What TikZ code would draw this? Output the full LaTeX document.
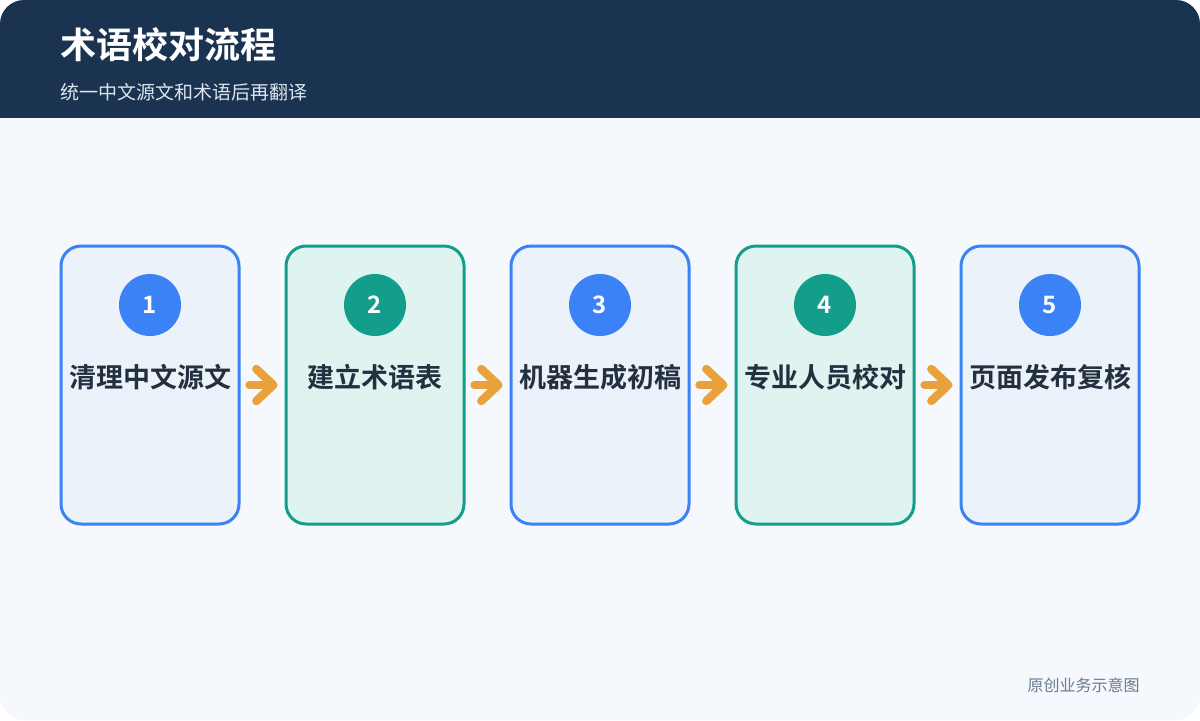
\documentclass[tikz,border=0pt]{standalone}
\usepackage{fontspec}
\setmainfont{Noto Sans CJK SC}[BoldFont={Noto Sans CJK SC Bold}]
\usetikzlibrary{arrows.meta,calc,positioning}
\definecolor{headbg}{HTML}{1A3350}
\definecolor{pagebg}{HTML}{F5F8FC}
\definecolor{blueline}{HTML}{3B82F6}
\definecolor{bluefill}{HTML}{EBF2F9}
\definecolor{tealline}{HTML}{129E8A}
\definecolor{tealfill}{HTML}{DFF4F0}
\definecolor{textdark}{HTML}{243040}
\definecolor{arrowc}{HTML}{E9A23B}
\definecolor{subtext}{HTML}{DCE5EF}
\definecolor{foottext}{HTML}{6B7B8F}
\tikzset{%
	card/.style     = {draw, rectangle, rounded corners=10pt, line width=1.5pt, minimum width=89pt, minimum height=139pt}, % step box
	bluecard/.style = {card, draw=blueline, fill=bluefill},
	tealcard/.style = {card, draw=tealline, fill=tealfill},
	badge/.style    = {circle, inner sep=0pt, minimum size=31pt, text=white, font=\bfseries\fontsize{12}{12}\selectfont}, % number
	cardtext/.style = {text=textdark, font=\bfseries\fontsize{13.5}{14}\selectfont},
	flow/.style     = {draw=arrowc, line width=4.2pt, line cap=round, -{Straight Barb[length=8.5pt, width=16pt, round]}, shorten <=4.5pt, shorten >=3.5pt},
}
\begin{document}
\begin{tikzpicture}[x=0.5pt, y=-0.5pt, node distance=112.5pt]
	\useasboundingbox (0,0) rectangle (1200,720);
	\fill[white] (0,0) rectangle (1200,720);
	\fill[pagebg, rounded corners=12pt] (0,0) rectangle (1200,720);
	\begin{scope}
		\clip[rounded corners=12pt] (0,0) rectangle (1200,720);
		\fill[headbg] (0,0) rectangle (1200,118);
	\end{scope}
	\node[anchor=west, inner sep=0pt, text=white, font=\bfseries\fontsize{18}{18}\selectfont] (title) at (60,45) {术语校对流程};
	\node[anchor=west, inner sep=0pt, text=subtext, font=\fontsize{9.5}{10}\selectfont] (subtitle) at (60,92) {统一中文源文和术语后再翻译};
	% steps
	\node[bluecard] (c1) at (150,385) {};
	\node[tealcard, right of=c1] (c2) {};
	\node[bluecard, right of=c2] (c3) {};
	\node[tealcard, right of=c3] (c4) {};
	\node[bluecard, right of=c4] (c5) {};
	\foreach \i/\t/\c in {1/清理中文源文/blueline, 2/建立术语表/tealline, 3/机器生成初稿/blueline, 4/专业人员校对/tealline, 5/页面发布复核/blueline} {
		\node[badge, fill=\c] (n\i) at ($(c\i)+(0,-80)$) {\i};
		\node[cardtext] (t\i) at ($(c\i)+(0,-8)$) {\t};
	}
	\foreach \i [evaluate=\i as \j using int(\i+1)] in {1,...,4}
		\draw[flow] (c\i.east) -- (c\j.west);
	\node[anchor=east, inner sep=0pt, text=foottext, font=\fontsize{8}{8}\selectfont] (foot) at (1140,685) {原创业务示意图};
\end{tikzpicture}
\end{document}
